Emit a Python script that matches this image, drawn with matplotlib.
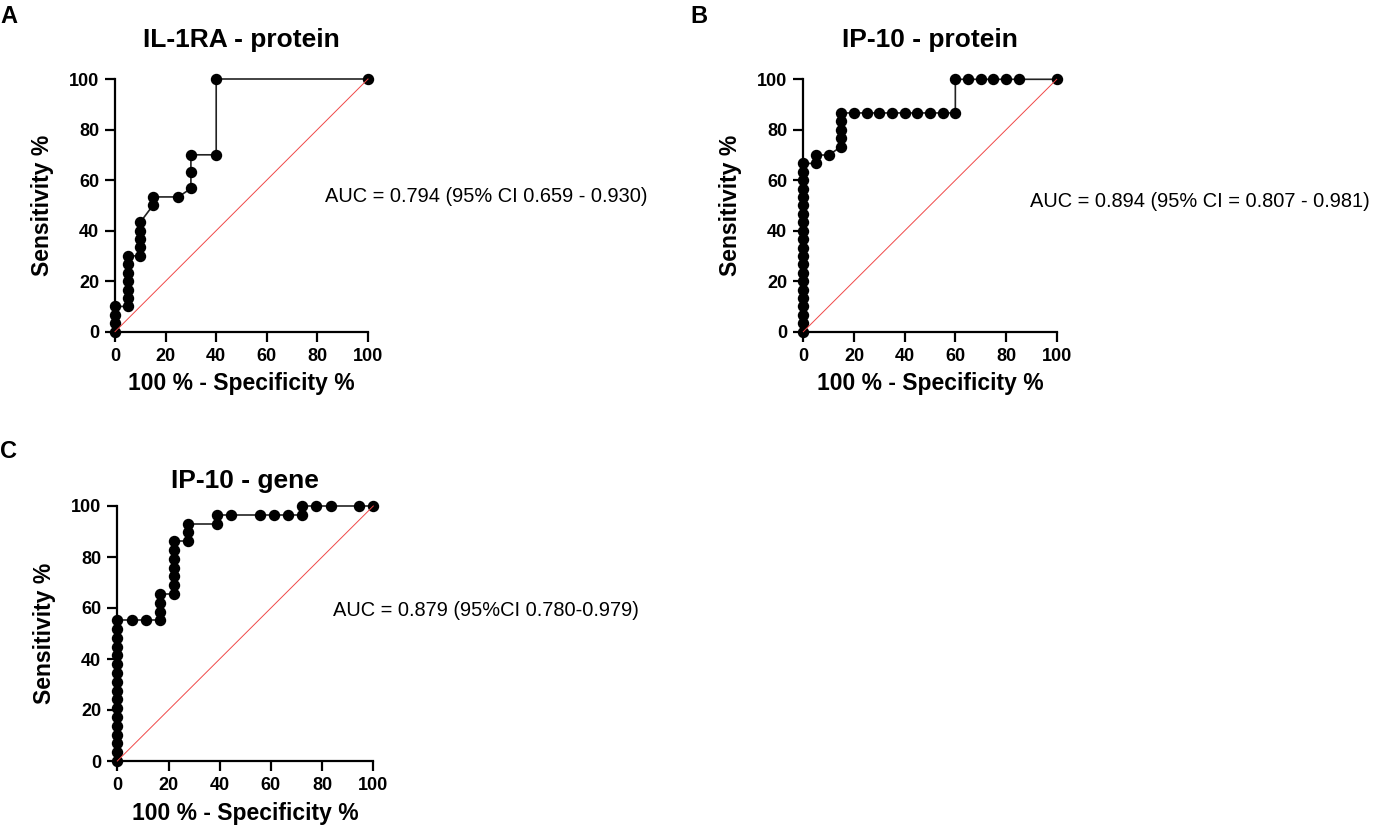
import matplotlib
matplotlib.use("Agg")
import matplotlib.pyplot as plt

plt.rcParams['font.family'] = ['Liberation Sans', 'DejaVu Sans']

# ROC points (100 % - specificity %, sensitivity %)
fpr_a = [0, 0, 0, 0, 5, 5, 5, 5, 5, 5, 5, 10, 10, 10, 10, 10, 15, 15, 25,
         30, 30, 30, 40, 40, 100]
tpr_a = [0, 3.33, 6.67, 10, 10, 13.33, 16.67, 20, 23.33, 26.67, 30, 30, 33.33,
         36.67, 40, 43.33, 50, 53.33, 53.33, 56.67, 63.33, 70, 70, 100, 100]

fpr_b = [0, 0, 0, 0, 0, 0, 0, 0, 0, 0, 0, 0, 0, 0, 0, 0, 0, 0, 0, 0, 0,
         5, 5, 10, 15, 15, 15, 15, 15, 20, 25, 30, 35, 40, 45, 50, 55, 60,
         60, 65, 70, 75, 80, 85, 100]
tpr_b = [0, 3.33, 6.67, 10, 13.33, 16.67, 20, 23.33, 26.67, 30, 33.33, 36.67,
         40, 43.33, 46.67, 50, 53.33, 56.67, 60, 63.33, 66.67,
         66.67, 70, 70, 73.33, 76.67, 80, 83.33, 86.67, 86.67, 86.67, 86.67,
         86.67, 86.67, 86.67, 86.67, 86.67, 86.67,
         100, 100, 100, 100, 100, 100, 100]

fpr_c = [0, 0, 0, 0, 0, 0, 0, 0, 0, 0, 0, 0, 0, 0, 0, 0, 0,
         5.56, 11.11, 16.67, 16.67, 16.67, 16.67,
         22.22, 22.22, 22.22, 22.22, 22.22, 22.22, 22.22,
         27.78, 27.78, 27.78, 38.89, 38.89, 44.44, 55.56, 61.11, 66.67,
         72.22, 72.22, 77.78, 83.33, 94.44, 100]
tpr_c = [0, 3.45, 6.9, 10.34, 13.79, 17.24, 20.69, 24.14, 27.59, 31.03, 34.48,
         37.93, 41.38, 44.83, 48.28, 51.72, 55.17,
         55.17, 55.17, 55.17, 58.62, 62.07, 65.52,
         65.52, 68.97, 72.41, 75.86, 79.31, 82.76, 86.21,
         86.21, 89.66, 93.10, 93.10, 96.55, 96.55, 96.55, 96.55, 96.55,
         96.55, 100, 100, 100, 100, 100]

titles = ["IL-1RA - protein", "IP-10 - protein", "IP-10 - gene"]
letters = ["A", "B", "C"]
auc_texts = ["AUC = 0.794 (95% CI 0.659 - 0.930)",
             "AUC = 0.894 (95% CI = 0.807 - 0.981)",
             "AUC = 0.879 (95%CI 0.780-0.979)"]
ticks = [0, 20, 40, 60, 80, 100]

W, H = 1375, 825
fig = plt.figure(figsize=(W / 100, H / 100), dpi=100)


def px_axes(left, top, right, bottom):
    return fig.add_axes([left / W, 1 - bottom / H, (right - left) / W, (bottom - top) / H])


panels = [
    # axes box (px), title baseline y, letter (x, baseline y), auc text pos (data)
    dict(box=(115, 79, 368, 331.7), ty=47, lx=0, ly=23, auc=(83, 53.6),
         x=fpr_a, y=tpr_a),
    dict(box=(803.3, 79.3, 1056.7, 331.7), ty=47, lx=690, ly=23, auc=(89.5, 51.4),
         x=fpr_b, y=tpr_b),
    dict(box=(117.3, 506, 373.3, 761), ty=488, lx=0, ly=458, auc=(84.3, 59.2),
         x=fpr_c, y=tpr_c),
]

for i, p in enumerate(panels):
    ax = px_axes(*p["box"])
    ax.plot(p["x"], p["y"], color="#222222", lw=1.2, marker="o", ms=7.2,
            mfc="black", mec="black", clip_on=False, zorder=2)
    ax.plot([0, 100], [0, 100], color="#f04848", lw=0.7, clip_on=False, zorder=3)
    ax.set_xlim(0, 100)
    ax.set_ylim(0, 100)
    ax.set_xticks(ticks)
    ax.set_yticks(ticks)
    for s in ["top", "right"]:
        ax.spines[s].set_visible(False)
    for s in ["left", "bottom"]:
        ax.spines[s].set_linewidth(1.6)
    ax.tick_params(direction="out", length=7.5, width=1.6, labelsize=13, pad=4)
    for lab in ax.get_xticklabels() + ax.get_yticklabels():
        lab.set_fontweight("bold")
    ax.set_xlabel("100 % - Specificity %", fontsize=16.5, fontweight="bold")
    ax.set_ylabel("Sensitivity %", fontsize=16.5, fontweight="bold")
    ax.xaxis.set_label_coords(0.5, -0.16)
    ax.yaxis.set_label_coords(-0.24, 0.5)
    ax.text(p["auc"][0], p["auc"][1], auc_texts[i], fontsize=14.4,
            ha="left", va="center")
    l, t, r, b = p["box"]
    fig.text((l + r) / 2 / W, 1 - p["ty"] / H, titles[i], fontsize=19,
             fontweight="bold", ha="center", va="baseline")
    fig.text(p["lx"] / W, 1 - p["ly"] / H, letters[i], fontsize=17,
             fontweight="bold", ha="left", va="baseline")

fig.savefig("out.png", dpi=100)
